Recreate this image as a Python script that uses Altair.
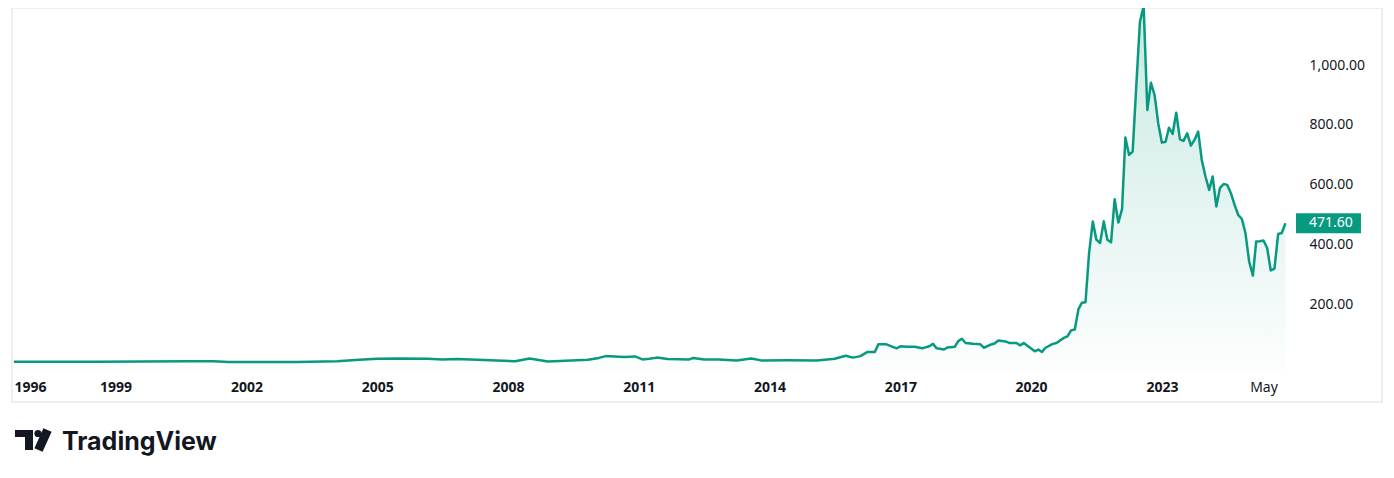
import altair as alt
import pandas as pd

# ---- data (monthly closes, approx.) ----
dates = [
    "1996-09-01", "1998-08-01", "2000-09-01", "2001-04-01", "2001-08-01", "2003-03-01",
    "2004-02-01", "2004-08-01", "2005-01-01", "2005-07-01", "2006-03-01", "2006-07-01",
    "2006-11-01", "2007-10-01", "2008-03-01", "2008-07-01", "2008-12-01", "2009-08-01",
    "2009-11-01", "2010-02-01", "2010-04-01", "2010-09-01", "2010-12-01", "2011-02-01",
    "2011-04-01", "2011-06-01", "2011-09-01", "2012-03-01", "2012-04-01", "2012-07-01",
    "2012-11-01", "2013-04-01", "2013-08-01", "2013-11-01", "2014-06-01", "2015-02-01",
    "2015-07-01", "2015-10-01", "2015-12-01", "2016-02-01", "2016-04-01", "2016-06-01",
    "2016-07-01", "2016-09-01", "2016-12-01", "2017-01-01", "2017-03-01", "2017-05-01",
    "2017-07-01", "2017-09-01", "2017-10-01", "2017-11-01", "2018-01-01", "2018-02-01",
    "2018-04-01", "2018-05-01", "2018-06-01", "2018-07-01", "2018-09-01", "2018-11-01",
    "2018-12-01", "2019-02-01", "2019-03-01", "2019-04-01", "2019-06-01", "2019-07-01",
    "2019-09-01", "2019-10-01", "2019-11-01", "2020-02-01", "2020-03-01", "2020-04-01",
    "2020-05-01", "2020-07-01", "2020-08-01", "2020-10-01", "2020-11-01", "2020-12-01",
    "2021-01-01", "2021-02-01", "2021-03-01", "2021-04-01", "2021-05-01", "2021-06-01",
    "2021-07-01", "2021-08-01", "2021-09-01", "2021-10-01", "2021-11-01", "2021-12-01",
    "2022-01-01", "2022-02-01", "2022-03-01", "2022-04-01", "2022-05-01", "2022-06-01",
    "2022-07-01", "2022-08-01", "2022-09-01", "2022-10-01", "2022-11-01", "2022-12-01",
    "2023-01-01", "2023-02-01", "2023-03-01", "2023-04-01", "2023-05-01", "2023-06-01",
    "2023-07-01", "2023-08-01", "2023-09-01", "2023-10-01", "2023-11-01", "2023-12-01",
    "2024-01-01", "2024-02-01", "2024-03-01", "2024-04-01", "2024-05-01", "2024-06-01",
    "2024-07-01", "2024-08-01", "2024-09-01", "2024-10-01", "2024-11-01", "2024-12-01",
    "2025-01-01", "2025-02-01", "2025-03-01", "2025-04-01", "2025-05-01", "2025-06-01",
    "2025-07-01", "2025-08-01", "2025-09-01", "2025-10-01", "2025-11-01",
]
values = [
    9, 9, 11, 11, 8, 8,
    11, 16, 19, 20, 19, 17,
    18, 13, 11, 20, 10, 14,
    16, 22, 28, 25, 27, 17,
    19, 23, 18, 17, 22, 17,
    17, 13, 20, 13, 14, 13,
    19, 29, 23, 28, 42, 42,
    68, 68, 54, 61, 59, 59,
    54, 61, 69, 54, 50, 57,
    59, 78, 86, 72, 69, 68,
    56, 67, 70, 80, 77, 72,
    72, 64, 72, 44, 50, 42,
    56, 69, 72, 89, 94, 114,
    117, 185, 206, 208, 373, 478,
    417, 406, 478, 417, 408, 552,
    474, 519, 758, 700, 711, 935,
    1145, 1197, 850, 941, 900, 806,
    741, 744, 791, 770, 841, 752,
    747, 772, 731, 750, 778, 683,
    628, 583, 628, 528, 589, 603,
    600, 572, 533, 500, 486, 439,
    344, 297, 411, 412, 414, 389,
    314, 320, 436, 439, 471.6,
]
y_ticks = [200, 400, 600, 800, 1000]
x_tick_dates = [(1996, 9), (1999, 1), (2002, 1), (2005, 1), (2008, 1), (2011, 1),
                (2014, 1), (2017, 1), (2020, 1), (2023, 1), (2025, 5)]
brand = "TradingView"

GREEN = "#089981"
INK = "#131722"
FONT = "Noto Sans"

df = pd.DataFrame({"date": dates, "value": values})
last_df = pd.DataFrame({"date": [dates[-1]], "value": [values[-1]]})

W, H = 1370, 394

xscale = alt.Scale(
    domain=[alt.DateTime(year=1996, month=8, date=16, utc=True),
            alt.DateTime(year=2028, month=1, date=19, utc=True)],
    nice=False,
)
yscale = alt.Scale(domain=[-125.25, 1190.7], nice=False, zero=False)

xaxis = alt.Axis(
    values=[alt.DateTime(year=y, month=m, date=1, utc=True) for y, m in x_tick_dates],
    labelExpr="utcmonth(datum.value) == 4 ? 'May' : utcFormat(datum.value, '%Y')",
    title=None, grid=False, domain=False, ticks=False, tickSize=0,
    labelPadding=0, offset=-11, labelBaseline="alphabetic",
    labelFont=FONT, labelFontSize=14, labelColor=INK,
    labelFontWeight={"condition": {"test": "utcmonth(datum.value) == 4", "value": "normal"}, "value": "bold"},
    labelAlign={"condition": {"test": "utcyear(datum.value) == 1996", "value": "left"}, "value": "center"},
    labelFlush=False, labelOverlap=False,
)
yaxis = alt.Axis(
    orient="right", values=y_ticks, format=",.2f",
    title=None, grid=False, domain=False, ticks=False, tickSize=0,
    labelPadding=0, offset=-73, labelAlign="left", labelBaseline="middle",
    labelFont=FONT, labelFontSize=14, labelColor=INK, labelOverlap=False,
)

base = alt.Chart(df).encode(
    x=alt.X("date:T", scale=xscale, axis=xaxis),
    y=alt.Y("value:Q", scale=yscale, axis=yaxis),
)

gradient = alt.Gradient(
    gradient="linear",
    stops=[alt.GradientStop(color="rgba(8,153,129,0.22)", offset=0),
           alt.GradientStop(color="rgba(8,153,129,0.01)", offset=1)],
    x1=1, x2=1, y1=0, y2=1,
)
area = base.mark_area(color=gradient).encode(y2=alt.datum(-20))
line = base.mark_line(color=GREEN, strokeWidth=2.5, strokeJoin="round")

tag = alt.Chart(last_df).mark_rule(color=GREEN, strokeWidth=20, strokeCap="butt").encode(
    x=alt.value(1284), x2=alt.value(1349), y=alt.Y("value:Q")
)
tag_text = alt.Chart(last_df).mark_text(
    align="left", baseline="middle", color="white", font=FONT, fontSize=14
).encode(
    x=alt.value(1297), y=alt.Y("value:Q"), text=alt.Text("value:Q", format=",.2f")
)

one = pd.DataFrame({"k": [0]})
logo_bar = alt.Chart(one).mark_rule(color=INK, strokeWidth=7, strokeCap="butt").encode(
    x=alt.value(3), x2=alt.value(21), y=alt.value(425.5)
)
logo_stem = alt.Chart(one).mark_rule(color=INK, strokeWidth=8, strokeCap="butt").encode(
    x=alt.value(17), y=alt.value(422), y2=alt.value(442)
)
logo_dot = alt.Chart(one).mark_point(filled=True, color=INK, opacity=1, size=52, shape="circle").encode(
    x=alt.value(26), y=alt.value(425.5)
)
logo_slash = alt.Chart(one).mark_rule(color=INK, strokeWidth=9, strokeCap="butt").encode(
    x=alt.value(35.5), x2=alt.value(26.5), y=alt.value(422), y2=alt.value(442)
)
logo_text = alt.Chart(one).mark_text(
    text=brand, align="left", baseline="alphabetic", font="Inter", fontWeight="bold",
    fontSize=25, color=INK
).encode(x=alt.value(50), y=alt.value(442))

chart = alt.layer(
    area, line, tag, tag_text, logo_bar, logo_stem, logo_dot, logo_slash, logo_text
).properties(
    width=W, height=H,
    autosize=alt.AutoSizeParams(type="none"),
    padding={"left": 4, "top": 0, "right": 4, "bottom": 70},
    background="white",
).configure_view(stroke="#eceef2", strokeWidth=2)

chart.save("out.html", embed_options={"renderer": "svg", "actions": False})
